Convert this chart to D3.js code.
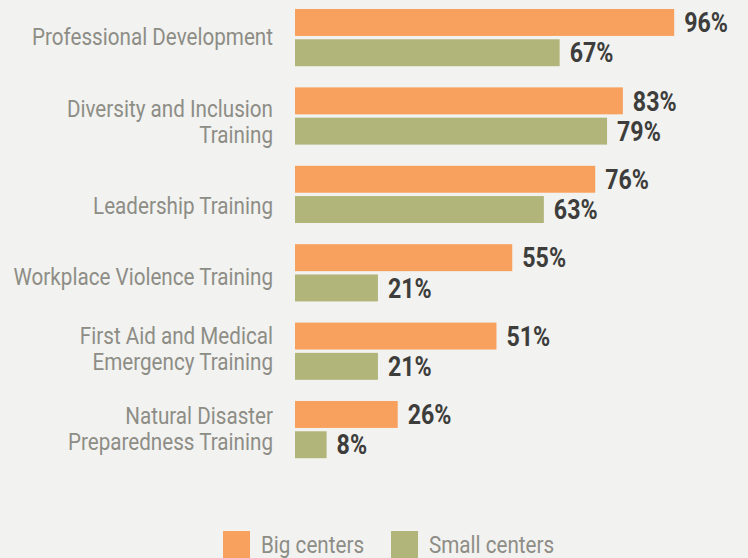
<!DOCTYPE html>
<html lang="en">
<head>
<meta charset="UTF-8">
<title>Training offered by center size</title>
<script src="https://d3js.org/d3.v7.min.js"></script>
<style>
  html, body { margin: 0; padding: 0; background: #f2f2f0; }
  svg { display: block; }
  .cat { fill: #8d8d86; font-family: "Roboto", sans-serif; font-size: 24px; }
  .val { fill: #3d3d3b; font-family: "Roboto", sans-serif; font-size: 27px; font-weight: bold; }
  .leg { fill: #8d8d86; font-family: "Roboto", sans-serif; font-size: 24px; }
</style>
</head>
<body>
<div id="chart"></div>
<script>
// categories (label lines) and values in percent
const categories = [
  ["Professional Development"],
  ["Diversity and Inclusion", "Training"],
  ["Leadership Training"],
  ["Workplace Violence Training"],
  ["First Aid and Medical", "Emergency Training"],
  ["Natural Disaster", "Preparedness Training"]
];
const bigCenters = [96, 83, 76, 55, 51, 26];
const smallCenters = [67, 79, 63, 21, 21, 8];
const seriesNames = ["Big centers", "Small centers"];
const seriesColors = ["#f8a05d", "#b1b57a"];

// layout: the original nudges some category labels off the group centre
const labelNudge = [-1.5, 5.5, 10.5, 4, -2.5, -1.5];
const squeeze = 0.86; // fake a condensed face

const W = 748, H = 558;
const svg = d3.select("#chart").append("svg").attr("width", W).attr("height", H);

const keys = categories.map((c, i) => i);
const y = d3.scaleBand().domain(keys).range([-1.6, 468.8]).paddingInner(0.27).paddingOuter(0.135);
const sub = d3.scaleBand().domain([0, 1]).range([0, y.bandwidth()]).paddingInner(0.11);
const x = d3.scaleLinear().domain([0, 100]).range([295, 690]);

const rows = keys.map(i => ({ i, vals: [bigCenters[i], smallCenters[i]] }));

const g = svg.selectAll("g.row").data(rows).join("g")
  .attr("class", "row")
  .attr("transform", d => `translate(0,${y(d.i)})`);

g.selectAll("rect").data(d => d.vals).join("rect")
  .attr("x", x(0))
  .attr("y", (v, j) => sub(j))
  .attr("width", v => x(v) - x(0))
  .attr("height", sub.bandwidth())
  .attr("fill", (v, j) => seriesColors[j]);

g.selectAll("text.val").data(d => d.vals).join("text")
  .attr("class", "val")
  .attr("transform", (v, j) => `translate(${x(v) + 10},${sub(j) + sub.bandwidth() / 2}) scale(${squeeze},1)`)
  .attr("dy", "0.36em")
  .text(v => v + "%");

g.each(function(d) {
  const lines = categories[d.i];
  const mid = y.bandwidth() / 2 + labelNudge[d.i];
  const t = d3.select(this).append("text")
    .attr("class", "cat")
    .attr("text-anchor", "end")
    .attr("transform", `translate(273,${mid}) scale(${squeeze},1)`);
  const lh = 25.7;
  lines.forEach((ln, k) => {
    t.append("tspan")
      .attr("x", 0)
      .attr("y", (k - (lines.length - 1) / 2) * lh)
      .attr("dy", "0.36em")
      .text(ln);
  });
});

// legend
const legX = [223, 391];
const leg = svg.selectAll("g.legend").data(seriesNames).join("g")
  .attr("class", "legend")
  .attr("transform", (d, i) => `translate(${legX[i]},531)`);
leg.append("rect").attr("width", 27).attr("height", 27).attr("fill", (d, i) => seriesColors[i]);
leg.append("text").attr("class", "leg")
  .attr("transform", `translate(38,13) scale(${squeeze},1)`)
  .attr("dy", "0.36em").text(d => d);
</script>
</body>
</html>
